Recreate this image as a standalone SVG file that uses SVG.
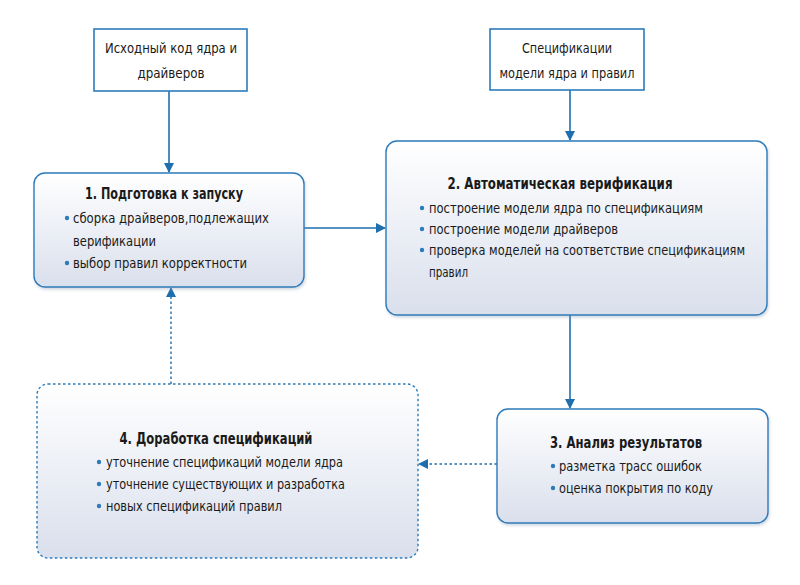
<svg xmlns="http://www.w3.org/2000/svg" width="800" height="585" viewBox="0 0 800 585">
<defs>
<linearGradient id="g" x1="0" y1="0" x2="0" y2="1">
<stop offset="0" stop-color="#ffffff"/>
<stop offset="1" stop-color="#d9dfec"/>
</linearGradient>
<marker id="ah" viewBox="0 0 10 10" refX="9" refY="5" markerWidth="10" markerHeight="10" markerUnits="userSpaceOnUse" orient="auto">
<path d="M0,0 L10,5 L0,10 z" fill="#1f6fae"/>
</marker>
<filter id="sh" x="-5%" y="-5%" width="115%" height="120%">
<feDropShadow dx="1" dy="2" stdDeviation="1.5" flood-color="#8090a8" flood-opacity="0.35"/>
</filter>
</defs>
<style>
text{font-family:"DejaVu Sans Condensed","Liberation Sans",sans-serif;fill:#1a1a1a;font-size:14.5px}
.t{font-weight:bold;font-size:16px}
.c{text-anchor:middle}
.box{fill:#fff;stroke:#2b7bbb;stroke-width:1.6}
.node{fill:url(#g);stroke:#2b7bbb;stroke-width:1.4;filter:url(#sh)}
.dash{fill:url(#g);stroke:#2b7bbb;stroke-width:1.4;stroke-dasharray:2.5 2.5}
.b{fill:#2b7bbb}
.ln{fill:none;stroke:#1f6fae;stroke-width:1.6;marker-end:url(#ah)}
.ld{fill:none;stroke:#1f6fae;stroke-width:1.4;stroke-dasharray:2.5 2.5;marker-end:url(#ah)}
</style>
<g id="connectors">
<line class="ln" x1="169" y1="91" x2="169" y2="172"/>
<line class="ln" x1="570" y1="90" x2="570" y2="140"/>
<line class="ln" x1="304" y1="228" x2="385" y2="228"/>
<line class="ln" x1="570" y1="315" x2="570" y2="408"/>
<line class="ld" x1="497" y1="464" x2="419" y2="464"/>
<line class="ld" x1="171" y1="384" x2="171" y2="288"/>
</g>
<g id="src">
<rect class="box" x="94" y="29" width="153" height="62"/>
<text class="c" x="171" y="53" textLength="132" lengthAdjust="spacingAndGlyphs">Исходный код ядра и</text>
<text class="c" x="171" y="78" textLength="67" lengthAdjust="spacingAndGlyphs">драйверов</text>
</g>
<g id="spec">
<rect class="box" x="490" y="29" width="154" height="61"/>
<text class="c" x="567" y="53" textLength="90" lengthAdjust="spacingAndGlyphs">Спецификации</text>
<text class="c" x="567" y="78" textLength="135" lengthAdjust="spacingAndGlyphs">модели ядра и правил</text>
</g>
<g id="n1">
<rect class="node" x="34" y="173" width="270" height="114" rx="11"/>
<text class="t c" x="164" y="199" textLength="158" lengthAdjust="spacingAndGlyphs">1. Подготовка к запуску</text>
<circle class="b" cx="67" cy="218" r="2.2"/>
<text x="73" y="223" textLength="196" lengthAdjust="spacingAndGlyphs">сборка драйверов,подлежащих</text>
<text x="73" y="246" textLength="83" lengthAdjust="spacingAndGlyphs">верификации</text>
<circle class="b" cx="67" cy="263" r="2.2"/>
<text x="73" y="268" textLength="174" lengthAdjust="spacingAndGlyphs">выбор правил корректности</text>
</g>
<g id="n2">
<rect class="node" x="386" y="141" width="381" height="174" rx="11"/>
<text class="t c" x="560" y="189" textLength="225" lengthAdjust="spacingAndGlyphs">2. Автоматическая верификация</text>
<circle class="b" cx="422" cy="208" r="2.2"/>
<text x="429" y="213" textLength="274" lengthAdjust="spacingAndGlyphs">построение  модели ядра по спецификациям</text>
<circle class="b" cx="422" cy="229" r="2.2"/>
<text x="429" y="234" textLength="189" lengthAdjust="spacingAndGlyphs">построение модели драйверов</text>
<circle class="b" cx="422" cy="250" r="2.2"/>
<text x="429" y="255" textLength="316" lengthAdjust="spacingAndGlyphs">проверка моделей на соответствие спецификациям</text>
<text x="429" y="277" textLength="39" lengthAdjust="spacingAndGlyphs">правил</text>
</g>
<g id="n3">
<rect class="node" x="497" y="409" width="271" height="114" rx="11"/>
<text class="t c" x="626" y="448" textLength="152" lengthAdjust="spacingAndGlyphs">3. Анализ результатов</text>
<circle class="b" cx="553" cy="466" r="2.2"/>
<text x="559" y="471" textLength="143" lengthAdjust="spacingAndGlyphs">разметка трасс ошибок</text>
<circle class="b" cx="553" cy="488" r="2.2"/>
<text x="559" y="493" textLength="154" lengthAdjust="spacingAndGlyphs">оценка покрытия по коду</text>
</g>
<g id="n4">
<rect class="dash" x="37" y="384" width="381" height="174" rx="11"/>
<text class="t c" x="216" y="444" textLength="193" lengthAdjust="spacingAndGlyphs">4. Доработка спецификаций</text>
<circle class="b" cx="99" cy="462" r="2.2"/>
<text x="106" y="467" textLength="237" lengthAdjust="spacingAndGlyphs">уточнение спецификаций модели ядра</text>
<circle class="b" cx="99" cy="484" r="2.2"/>
<text x="106" y="489" textLength="239" lengthAdjust="spacingAndGlyphs">уточнение существующих и разработка</text>
<circle class="b" cx="99" cy="506" r="2.2"/>
<text x="106" y="511" textLength="176" lengthAdjust="spacingAndGlyphs">новых спецификаций правил</text>
</g>
</svg>
